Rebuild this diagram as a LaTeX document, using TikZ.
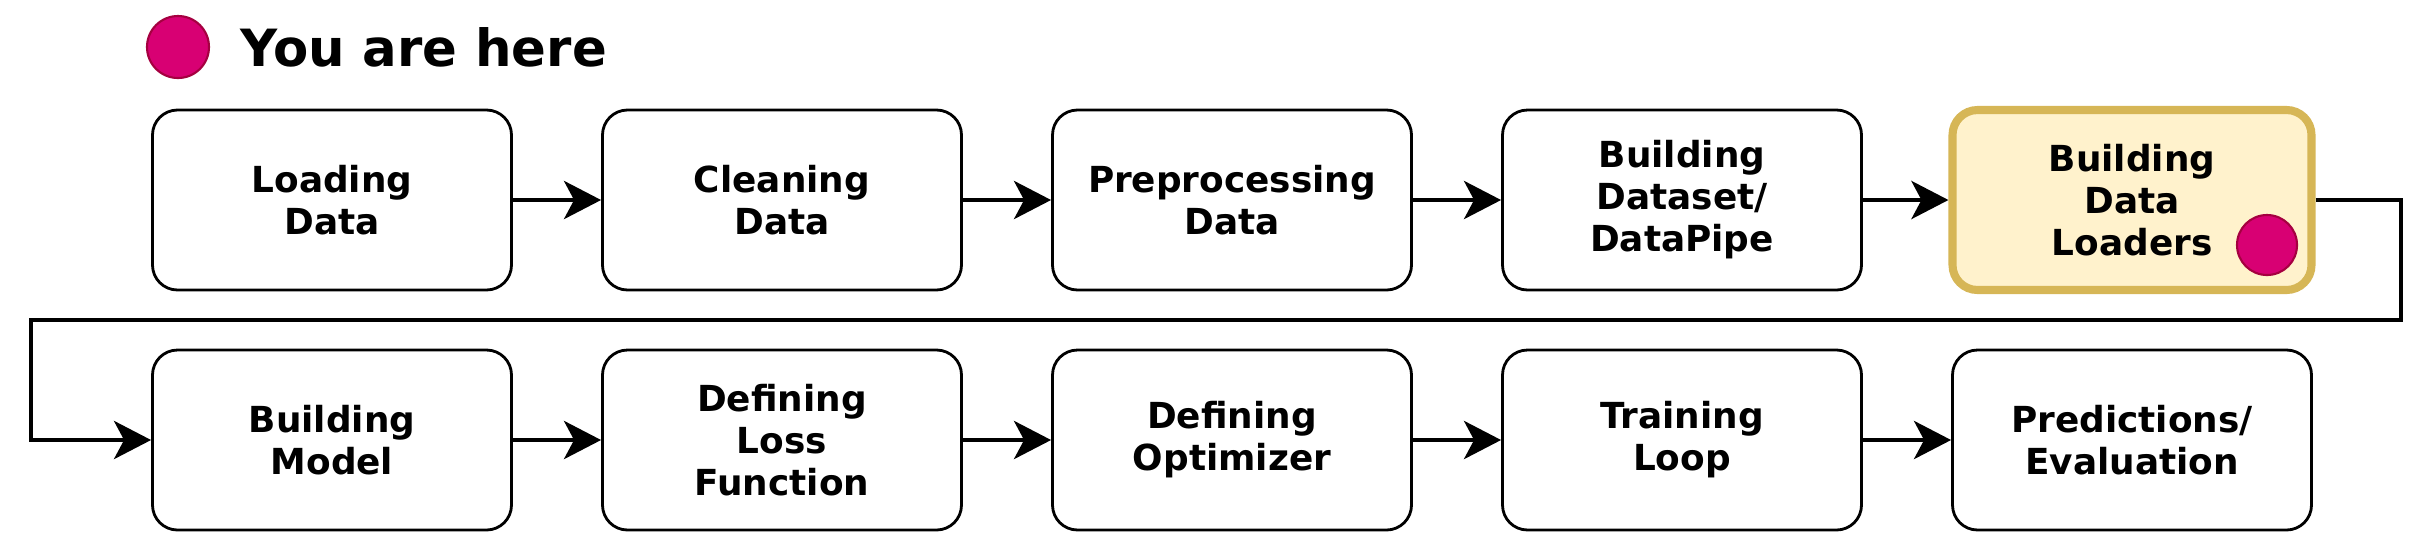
\documentclass[tikz,border=0pt]{standalone}
\usepackage{fontspec}
\setmainfont{DejaVu Sans}
\usetikzlibrary{arrows.meta, positioning}
\definecolor{markerfill}{HTML}{D80073}
\definecolor{markerline}{HTML}{A50040}
\definecolor{hlfill}{HTML}{FFF2CC}
\definecolor{hlline}{HTML}{D6B656}
\tikzset{
  stage/.style = {draw, rounded corners = 0.25cm, line width = 0.8pt, minimum width = 3.59cm, minimum height = 1.8cm, align = center, font = \bfseries\fontsize{10.2}{11.95}\selectfont},
  current/.style = {stage, draw = hlline, fill = hlfill, line width = 2.3pt},
  flow/.style = {line width = 1.4pt, -{Stealth[length = 0.37cm, width = 0.38cm, inset = 0.1cm]}},
  marker/.style = {circle, draw = markerline, fill = markerfill, line width = 0.6pt, minimum size = 0.6cm, inner sep = 0pt}
}
\begin{document}
\begin{tikzpicture}
\useasboundingbox (0,0) rectangle (24.3,5.5);

\node[marker, minimum size = 0.62cm] (legend) at (1.78,5.03) {};
\node[right = 0.3cm of legend, inner sep = 0pt, font = \bfseries\fontsize{14.6}{17}\selectfont] (legendtext) {You are here};

\node[stage] (load)    at ( 3.32,3.5) {Loading\\Data};
\node[stage] (clean)   at ( 7.82,3.5) {Cleaning\\Data};
\node[stage] (prep)    at (12.32,3.5) {Preprocessing\\Data};
\node[stage] (dataset) at (16.82,3.5) {Building\\Dataset/\\DataPipe};
\node[current] (loaders) at (21.32,3.5) {Building\\Data\\Loaders};
\node[marker] (here) at (22.67,3.05) {};

\node[stage] (model) at ( 3.32,1.1) {Building\\Model};
\node[stage] (loss)  at ( 7.82,1.1) {Defining\\Loss\\Function};
\node[stage] (optim) at (12.32,1.1) {Defining\\Optimizer};
\node[stage] (train) at (16.82,1.1) {Training\\Loop};
\node[stage] (eval)  at (21.32,1.1) {Predictions/\\Evaluation};

\foreach \a/\b in {load/clean, clean/prep, prep/dataset, dataset/loaders, model/loss, loss/optim, optim/train, train/eval}
   \draw[flow] (\a) -- (\b);

\coordinate (turnR) at (24.01,2.3);
\coordinate (turnL) at (0.31,2.3);
\draw[flow] (loaders.east) -| (turnR) -- (turnL) |- (model.west);
\end{tikzpicture}
\end{document}
